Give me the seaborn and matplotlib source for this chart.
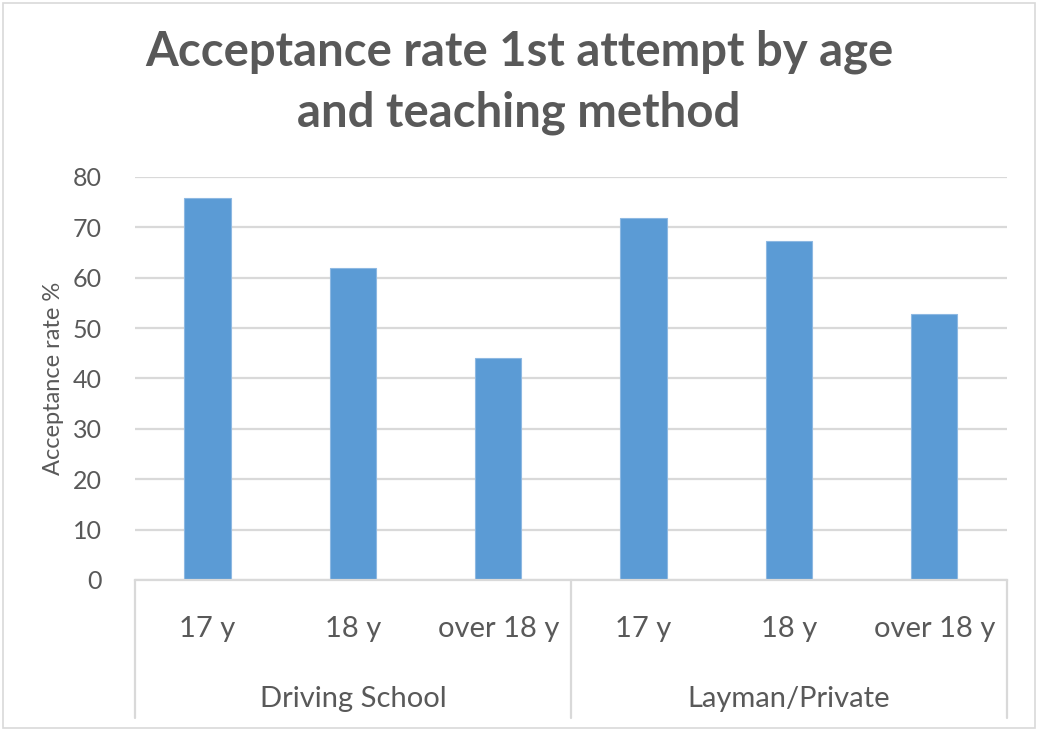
import matplotlib
matplotlib.use("Agg")
import matplotlib.pyplot as plt
import matplotlib.transforms as mtransforms
import seaborn as sns
import pandas as pd

# data
methods = ["Driving School", "Driving School", "Driving School",
           "Layman/Private", "Layman/Private", "Layman/Private"]
ages = ["17 y", "18 y", "over 18 y", "17 y", "18 y", "over 18 y"]
rates = [75.8, 61.9, 44.1, 71.9, 67.3, 52.9]
group_names = ["Driving School", "Layman/Private"]
y_ticks = [0, 10, 20, 30, 40, 50, 60, 70, 80]

df = pd.DataFrame({"method": methods, "age": ages, "rate": rates})
df["key"] = df["method"] + " | " + df["age"]

sns.set_theme(style="white")
plt.rcParams["font.family"] = ["Lato", "DejaVu Sans"]

txt = "#595959"
grid_c = "#D9D9D9"
bar_c = "#5B9BD5"

fig = plt.figure(figsize=(10.38, 7.32), dpi=100)
ax = fig.add_axes([0.130, 0.2077, 0.840, 0.5505])

sns.barplot(data=df, x="key", y="rate", order=list(df["key"]), color=bar_c,
            width=0.32, saturation=1, edgecolor="#8DB8E2", linewidth=0.8, ax=ax)

ax.set_ylim(0, 80)
ax.set_xlim(-0.5, len(df) - 0.5)
ax.set_yticks(y_ticks)
ax.set_yticklabels([str(t) for t in y_ticks], fontsize=18, color=txt)
ax.yaxis.grid(True, color=grid_c, linewidth=1.6)
ax.set_axisbelow(True)
for s in ["top", "right", "left"]:
    ax.spines[s].set_visible(False)
ax.spines["bottom"].set_color(grid_c)
ax.spines["bottom"].set_linewidth(1.6)
ax.tick_params(axis="y", length=0, pad=24)

ax.set_xticks(range(len(df)))
ax.set_xticklabels(ages, fontsize=21, color=txt)
ax.tick_params(axis="x", length=0, pad=26)
ax.set_xlabel("")
ax.set_ylabel("Acceptance rate %", fontsize=17, color=txt, labelpad=6)

# grouped category axis below
trans = mtransforms.blended_transform_factory(ax.transData, ax.transAxes)
for xs in [-0.5, 2.5, 5.5]:
    ax.plot([xs, xs], [0, -0.342], transform=trans, color=grid_c,
            linewidth=1.6, clip_on=False)
for i, g in enumerate(group_names):
    ax.text(1 + 3 * i, -0.295, g, transform=trans, ha="center", va="center",
            fontsize=21, color=txt)

fig.text(0.50, 1 - 82 / 732, "Acceptance rate 1st attempt by age\nand teaching method",
         ha="center", va="center", fontsize=34, fontweight="bold", color=txt,
         linespacing=1.45)

# chart border
fig.patches.append(plt.Rectangle((0.003, 0.006), 0.994, 0.99, transform=fig.transFigure,
                                 fill=False, edgecolor="#D9D9D9", linewidth=1.2))

fig.savefig("out.png", dpi=100)
